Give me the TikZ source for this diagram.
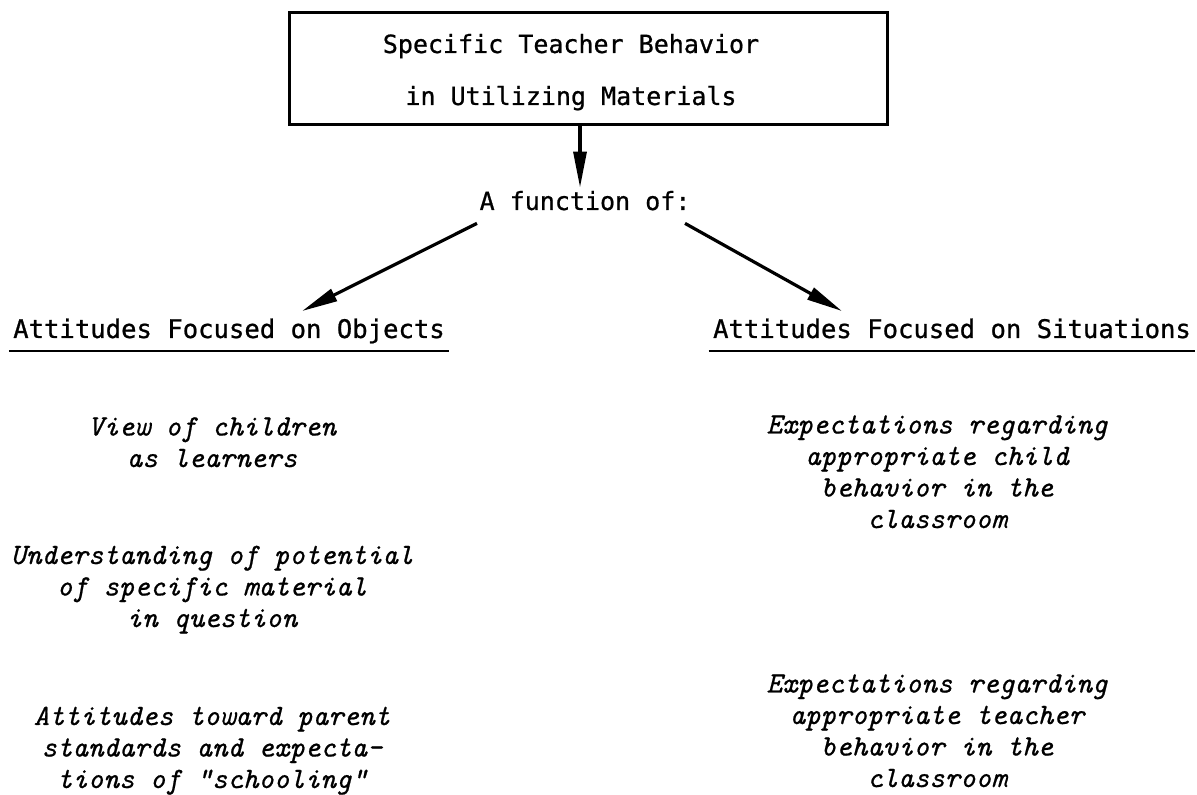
\documentclass[tikz,border=0pt]{standalone}
\usepackage{fontspec}
\usepackage{tikz}
\usetikzlibrary{arrows.meta}
\newfontfamily\headfont{DejaVu Sans Mono}[FakeBold=0.8]
\newfontfamily\typeit{lmmono10-italic.otf}[FakeBold=0.7]

\begin{document}
\begin{tikzpicture}[x=0.5pt,y=0.5pt,
  titlebox/.style={draw,line width=1.5pt,minimum width=299pt,minimum height=56pt,inner sep=0pt},
  titletext/.style={font=\headfont\fontsize{12.5}{26}\selectfont,align=center,anchor=base,inner sep=0pt},
  fntext/.style={font=\headfont\fontsize{12.5}{15}\selectfont,anchor=base,inner sep=1.5pt,text depth=5pt},
  headsub/.style={font=\headfont\fontsize{12.8}{15}\selectfont,anchor=base,text height=10pt,text depth=3pt,inner xsep=2pt,inner ysep=3.25pt},
  typeblock/.style={font=\typeit\fontsize{14.76}{15.75}\selectfont,align=center,anchor=base,inner sep=0pt},
  arr/.style={-{Triangle[length=18pt,width=6.5pt]},line width=1.6pt},
  uline/.style={line width=1.2pt}]
\path[use as bounding box] (0,0) rectangle (1197,795);

% top box
\node[titlebox] (behav) at (588,726) {};
\node[titletext] (behavtxt) at (571,690) {Specific Teacher Behavior\\in Utilizing Materials};

\node[fntext] (fn) at (585,585) {A function of:};

\draw[arr] ([xshift=-4pt]behav.south) -- ([xshift=-2.5pt]fn.north);

% the two kinds of attitudes
\node[headsub] (obj) at (229,457) {Attitudes Focused on Objects};
\node[headsub] (sit) at (952,457) {Attitudes Focused on Situations};

\draw[uline] (obj.south west) -- (obj.south east);
\draw[uline] (sit.south west) -- (sit.south east);

\draw[arr] ([xshift=-54pt]fn.south) -- ([xshift=36.5pt]obj.north);
\draw[arr] ([xshift=50pt]fn.south) -- ([xshift=-55pt]sit.north);

% objects (base = last line)
\node[typeblock] (kids) at (212,328) {View of children\\as learners};
\node[typeblock] (potent) at (212,168) {Understanding of potential\\of specific material\\in question};
\node[typeblock] (parent) at (212,7) {Attitudes toward parent\\standards and expecta-\\tions of "schooling"};

% situations
\node[typeblock] (childexp) at (937,267) {Expectations regarding\\appropriate child\\behavior in the\\classroom};
\node[typeblock] (teachexp) at (937,8) {Expectations regarding\\appropriate teacher\\behavior in the\\classroom};
\end{tikzpicture}
\end{document}
